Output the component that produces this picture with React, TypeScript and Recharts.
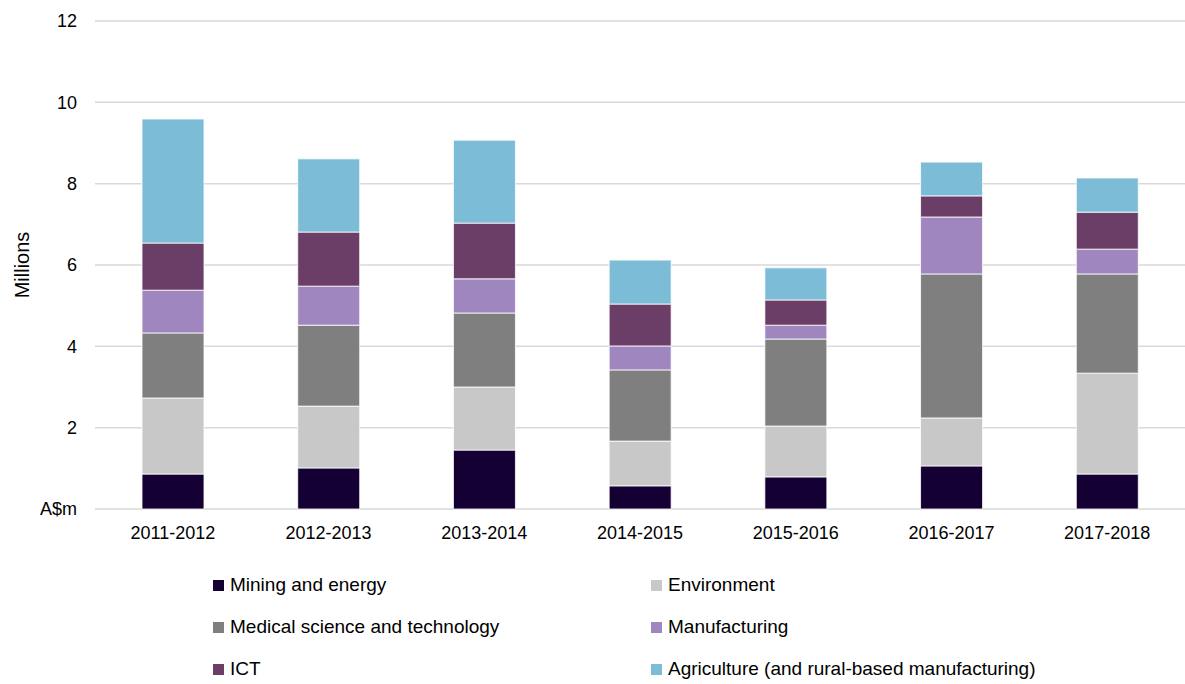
import { BarChart, Bar, XAxis, YAxis, CartesianGrid } from 'recharts';

const years = ['2011-2012', '2012-2013', '2013-2014', '2014-2015', '2015-2016', '2016-2017', '2017-2018'];

const mining = [0.86, 1.01, 1.45, 0.57, 0.79, 1.06, 0.86];
const environment = [1.87, 1.52, 1.55, 1.1, 1.25, 1.18, 2.48];
const medical = [1.6, 1.99, 1.82, 1.75, 2.14, 3.54, 2.44];
const manufacturing = [1.05, 0.96, 0.84, 0.59, 0.34, 1.4, 0.61];
const ict = [1.16, 1.33, 1.37, 1.03, 0.62, 0.52, 0.91];
const agriculture = [3.05, 1.8, 2.04, 1.08, 0.79, 0.83, 0.84];

const yTicks = [0, 2, 4, 6, 8, 10, 12];

const SERIES = [
  { key: 'mining', name: 'Mining and energy', color: '#150033', values: mining },
  { key: 'environment', name: 'Environment', color: '#c8c8c8', values: environment },
  { key: 'medical', name: 'Medical science and technology', color: '#7f7f7f', values: medical },
  { key: 'manufacturing', name: 'Manufacturing', color: '#9f86be', values: manufacturing },
  { key: 'ict', name: 'ICT', color: '#6b3e68', values: ict },
  { key: 'agriculture', name: 'Agriculture (and rural-based manufacturing)', color: '#7dbcd7', values: agriculture },
];

const data = years.map((year, i) => {
  const row: Record<string, any> = { year };
  SERIES.forEach((s) => {
    row[s.key] = s.values[i];
  });
  return row;
});

const FONT = '"Liberation Sans", Arial, sans-serif';

function LegendBox() {
  return (
    <div
      style={{
        position: 'absolute',
        left: 213,
        top: 574,
        display: 'grid',
        gridTemplateColumns: '438px 460px',
        rowGap: 20,
        fontFamily: FONT,
        fontSize: 19,
        color: '#000',
        whiteSpace: 'nowrap',
      }}
    >
      {SERIES.map((s) => (
        <div key={s.key} style={{ display: 'flex', alignItems: 'center', height: 22 }}>
          <span style={{ width: 11, height: 11, background: s.color, marginRight: 6, display: 'inline-block' }} />
          <span>{s.name}</span>
        </div>
      ))}
    </div>
  );
}

export default function App() {
  return (
    <div style={{ position: 'absolute', left: 0, top: 0, width: 1185, height: 684, background: '#fff', fontFamily: FONT }}>
      <BarChart
        width={1185}
        height={560}
        data={data}
        margin={{ top: 21, right: 0, left: 0, bottom: 21 }}
        barSize={62}
      >
        <CartesianGrid vertical={false} stroke="#d9d9d9" strokeWidth={1.5} />
        <XAxis
          dataKey="year"
          axisLine={false}
          tickLine={false}
          tickSize={0}
          tickMargin={17}
          height={30}
          tick={{ fontSize: 18, fill: '#000', fontFamily: FONT }}
        />
        <YAxis
          width={95}
          domain={[0, 12]}
          ticks={yTicks}
          interval={0}
          axisLine={false}
          tickLine={false}
          tickSize={0}
          tickMargin={18}
          tick={{ fontSize: 18, fill: '#000', fontFamily: FONT }}
          tickFormatter={(v: number) => (v === 0 ? 'A$m' : String(v))}
          label={{
            content: (props: any) => {
              const vb = props.viewBox || {};
              const cy = (vb.y || 0) + (vb.height || 0) / 2;
              return (
                <text
                  x={22}
                  y={cy}
                  transform={`rotate(-90, 22, ${cy})`}
                  textAnchor="middle"
                  dominantBaseline="central"
                  fontSize={20}
                  fontFamily={FONT}
                  fill="#000"
                >
                  Millions
                </text>
              );
            },
          }}
        />
        {SERIES.map((s) => (
          <Bar
            key={s.key}
            dataKey={s.key}
            name={s.name}
            stackId="a"
            fill={s.color}
            stroke="#ffffff"
            strokeWidth={0.8}
            isAnimationActive={false}
          />
        ))}
      </BarChart>
      <LegendBox />
    </div>
  );
}
